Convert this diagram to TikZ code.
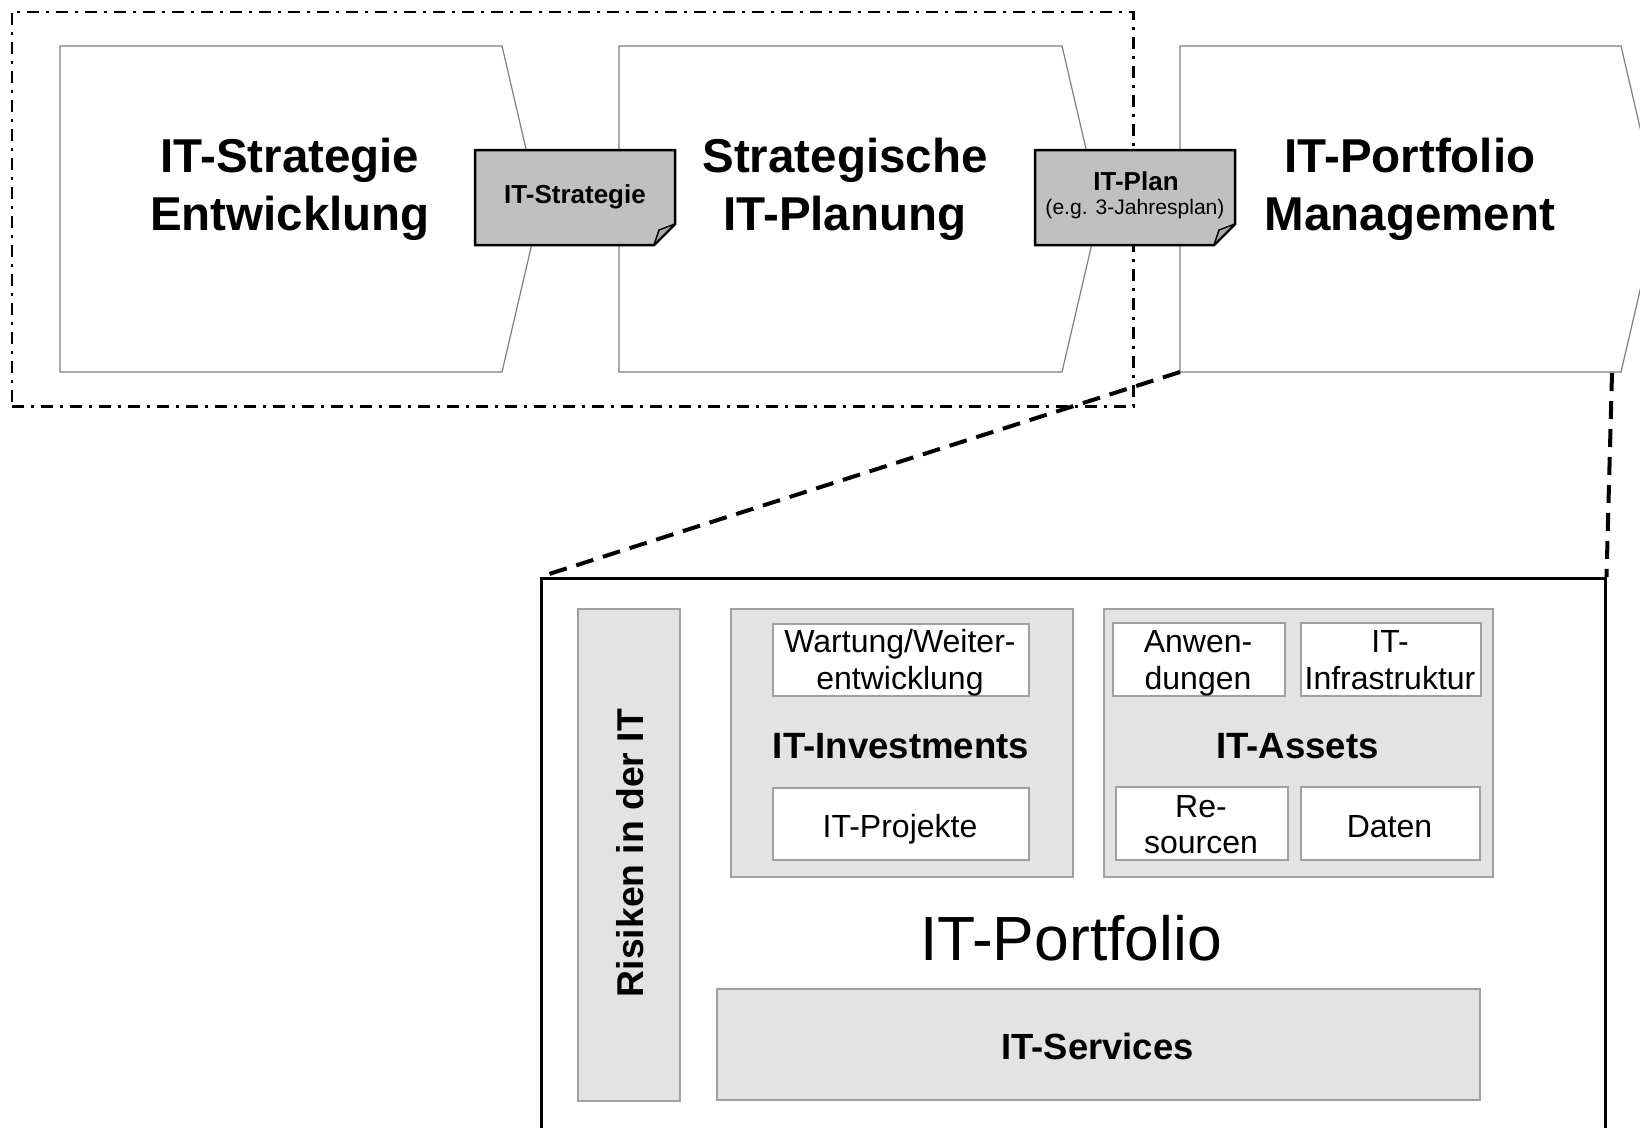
\documentclass[tikz,border=0pt]{standalone}
\usepackage{fontspec}
\setmainfont{Liberation Sans}
\definecolor{pentline}{HTML}{7F7F7F}
\definecolor{docfill}{HTML}{C0C0C0}
\definecolor{curlfill}{HTML}{A8A8A8}
\definecolor{boxfill}{HTML}{E3E3E3}
\definecolor{boxline}{HTML}{A0A0A0}
\begin{document}
\begin{tikzpicture}[x=1pt,y=-1pt,
  pent/.style={draw=pentline, line width=1.2pt, fill=white, line join=miter},
  docshape/.style={draw=black, line width=2.5pt, fill=docfill, line join=miter},
  curl/.style={draw=black, line width=1.5pt, fill=curlfill, line join=round},
  frame/.style={draw=black, line width=2.7pt, dash pattern=on 12pt off 7pt on 3pt off 7pt, inner sep=0pt},
  zoomline/.style={draw=black, line width=4pt, dash pattern=on 18pt off 10pt},
  outer/.style={draw=black, line width=2.5pt, fill=white, inner sep=0pt, anchor=north west},
  gbox/.style={draw=boxline, line width=1.5pt, fill=boxfill, inner sep=0pt, anchor=north west},
  wbox/.style={draw=boxline, line width=1.5pt, fill=white, inner sep=0pt, anchor=north west},
  bigT/.style={font=\fontsize{47.5}{57}\selectfont\bfseries, anchor=base, inner sep=0pt},
  docT/.style={font=\fontsize{26}{30}\selectfont\bfseries, anchor=base, inner sep=0pt},
  smallT/.style={font=\fontsize{21.1}{25}\selectfont, anchor=base, inner sep=0pt},
  regT/.style={font=\fontsize{32}{38}\selectfont, anchor=base, inner sep=0pt},
  boldT/.style={font=\fontsize{36.6}{42}\selectfont\bfseries, anchor=base, inner sep=0pt},
  hugeT/.style={font=\fontsize{62.4}{72}\selectfont, anchor=base, inner sep=0pt}
]
\useasboundingbox (0,0) rectangle (1640,1127);
\clip (0,0) rectangle (1640,1127);
\fill[white] (0,0) rectangle (1640,1127);

% process pentagons
\draw[pent] (60,46) -- (502,46) -- (540,209) -- (502,372) -- (60,372) -- cycle;
\draw[pent] (619,46) -- (1062,46) -- (1100,209) -- (1062,372) -- (619,372) -- cycle;
\draw[pent] (1180,46) coordinate (p3nw) -- (1621,46) -- (1659,209) -- (1621,372) -- (1180,372) coordinate (p3sw) -- cycle;
\coordinate (p3se) at (1612,373);

% dash-dot frame
\node[frame, anchor=north west, minimum width=1121.5pt, minimum height=394.5pt] (frm) at (10.5,10.5) {};

% documents
\draw[docshape] (475,150) -- (675,150) -- (675,224) -- (654,245) -- (475,245) -- cycle;
\draw[curl] (654,245) -- (659,230) -- (675,224) -- cycle;
\draw[docshape] (1035,150) -- (1235,150) -- (1235,224) -- (1214,245) -- (1035,245) -- cycle;
\draw[curl] (1214,245) -- (1219,230) -- (1235,224) -- cycle;

% top texts
\node[bigT] (t1a) at (290,172) {IT-Strategie};
\node[bigT] (t1b) at (290,230) {Entwicklung};
\node[bigT] (t2a) at (845,172) {Strategische};
\node[bigT] (t2b) at (845,230) {IT-Planung};
\node[bigT] (t3a) at (1410,172) {IT-Portfolio};
\node[bigT] (t3b) at (1410,230) {Management};
\node[docT] (d1) at (575,203) {IT-Strategie};
\node[docT] (d2a) at (1136,190) {IT-Plan};
\node[smallT] (d2b) at (1135,214) {(e.g. 3-Jahresplan)};

% portfolio box
\node[outer, minimum width=1064pt, minimum height=600pt] (big) at (540,577) {};
\coordinate (bigL) at (546,575);
\draw[zoomline] (p3sw) -- (bigL);
\draw[zoomline] (p3se) -- (big.north east);

\node[gbox, minimum width=102pt, minimum height=492pt] (risk) at (577,608) {};
\node[font=\fontsize{37.3}{42}\selectfont\bfseries, rotate=90, inner sep=0pt] (riskT) at (630,853) {Risiken in der IT};

\node[gbox, minimum width=342pt, minimum height=268pt] (inv) at (730,608) {};
\node[wbox, minimum width=256pt, minimum height=72pt] (wart) at (772,623) {};
\node[wbox, minimum width=256pt, minimum height=72pt] (proj) at (772,787) {};
\node[regT] (wartA) at (900,652.6) {Wartung/Weiter-};
\node[regT] (wartB) at (900,689) {entwicklung};
\node[boldT] (invT) at (901,758) {IT-Investments};
\node[regT] (projT) at (900,837) {IT-Projekte};

\node[gbox, minimum width=389pt, minimum height=268pt] (ass) at (1103,608) {};
\node[wbox, minimum width=172pt, minimum height=73pt] (anw) at (1112,622) {};
\node[wbox, minimum width=180pt, minimum height=73pt] (infra) at (1300,622) {};
\node[wbox, minimum width=172pt, minimum height=73pt] (res) at (1115,786) {};
\node[wbox, minimum width=179pt, minimum height=73pt] (dat) at (1300,786) {};
\node[regT] (anwA) at (1198,652.6) {Anwen-};
\node[regT] (anwB) at (1198,689) {dungen};
\node[regT] (infA) at (1390,652.6) {IT-};
\node[regT] (infB) at (1390,689) {Infrastruktur};
\node[boldT] (assT) at (1297.5,758) {IT-Assets};
\node[regT] (resA) at (1201,817) {Re-};
\node[regT] (resB) at (1201,853) {sourcen};
\node[regT] (datT) at (1389.5,837) {Daten};

\node[hugeT] (portT) at (1071,960) {IT-Portfolio};
\node[gbox, minimum width=763pt, minimum height=111pt] (serv) at (716,988) {};
\node[font=\fontsize{36.4}{42}\selectfont\bfseries, anchor=base, inner sep=0pt] (servT) at (1097.5,1059.5) {IT-Services};
\end{tikzpicture}
\end{document}
